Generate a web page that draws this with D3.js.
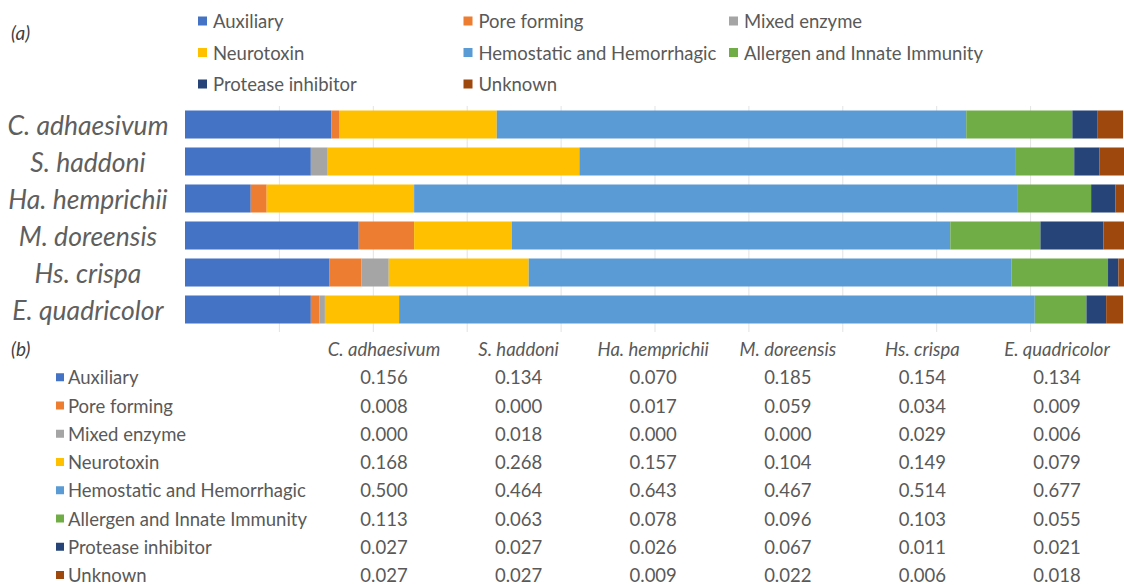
<!DOCTYPE html>
<html>
<head>
<meta charset="utf-8">
<script src="https://cdn.jsdelivr.net/npm/d3@7"></script>
<style>
  html, body { margin: 0; padding: 0; background: #ffffff; }
  svg { display: block; font-family: Lato, "Open Sans", sans-serif; }
</style>
</head>
<body>
<svg id="chart" width="1124" height="585"></svg>
<script>
// ---------- data ----------
const categories = ["C. adhaesivum", "S. haddoni", "Ha. hemprichii", "M. doreensis", "Hs. crispa", "E. quadricolor"];
const seriesNames = ["Auxiliary", "Pore forming", "Mixed enzyme", "Neurotoxin", "Hemostatic and Hemorrhagic", "Allergen and Innate Immunity", "Protease inhibitor", "Unknown"];
const seriesColors = ["#4472C4", "#ED7D31", "#A5A5A5", "#FFC000", "#5B9BD5", "#70AD47", "#264478", "#9E480E"];

const auxiliary  = [0.156, 0.134, 0.070, 0.185, 0.154, 0.134];
const poreForming = [0.008, 0.000, 0.017, 0.059, 0.034, 0.009];
const mixedEnzyme = [0.000, 0.018, 0.000, 0.000, 0.029, 0.006];
const neurotoxin  = [0.168, 0.268, 0.157, 0.104, 0.149, 0.079];
const hemostatic  = [0.500, 0.464, 0.643, 0.467, 0.514, 0.677];
const allergen    = [0.113, 0.063, 0.078, 0.096, 0.103, 0.055];
const protease    = [0.027, 0.027, 0.026, 0.067, 0.011, 0.021];
const unknown     = [0.027, 0.027, 0.009, 0.022, 0.006, 0.018];

const seriesValues = [auxiliary, poreForming, mixedEnzyme, neurotoxin, hemostatic, allergen, protease, unknown];
const gridTicks = [0.1, 0.2, 0.3, 0.4, 0.5, 0.6, 0.7, 0.8, 0.9];

// table built from arrays
const rows = categories.map((c, i) => {
  const o = { category: c };
  seriesNames.forEach((s, j) => { o[s] = seriesValues[j][i]; });
  return o;
});

const svg = d3.select("#chart");
const textColor = "#595959";

// ---------- panel (a) ----------
const x = d3.scaleLinear().domain([0, 1]).range([185, 1124]);
const y = d3.scaleBand().domain(categories).range([106, 328]).paddingInner(0.243).paddingOuter(0.1215);

// gridlines
svg.append("g")
  .attr("transform", "translate(0,332)")
  .call(d3.axisBottom(x).tickValues(gridTicks).tickSize(-226).tickFormat(""))
  .call(g => g.select(".domain").remove())
  .call(g => g.selectAll(".tick line").attr("stroke", "#E3E3E3").attr("stroke-width", 1));

const stacked = d3.stack().keys(seriesNames)(rows);

svg.append("g").selectAll("g")
  .data(stacked)
  .join("g")
  .attr("fill", (d, i) => seriesColors[i])
  .selectAll("rect")
  .data(d => d)
  .join("rect")
  .attr("x", d => x(d[0]))
  .attr("width", d => Math.max(0, x(d[1]) - x(d[0])))
  .attr("y", d => y(d.data.category))
  .attr("height", y.bandwidth());

// category labels (centered)
svg.append("g").selectAll("text")
  .data(categories)
  .join("text")
  .attr("x", 88)
  .attr("y", d => y(d) + y.bandwidth() / 2)
  .attr("text-anchor", "middle")
  .attr("dominant-baseline", "central")
  .attr("font-style", "italic")
  .attr("font-size", 26.5)
  .attr("fill", "#5f5f5f")
  .text(d => d);

// panel label (a)
svg.append("text").attr("x", 11).attr("y", 32).attr("dominant-baseline", "central")
  .attr("font-style", "italic").attr("font-size", 19).attr("fill", "#404040").text("(a)");

// legend
const legendCol = d3.scaleLinear().domain([0, 2]).range([198, 729]);
const legendRow = d3.scaleLinear().domain([0, 2]).range([21, 84]);
const legend = svg.append("g").selectAll("g")
  .data(seriesNames)
  .join("g")
  .attr("transform", (d, i) => `translate(${legendCol(i % 3)},${legendRow(Math.floor(i / 3))})`);
legend.append("rect").attr("x", 0).attr("y", -4.5).attr("width", 9).attr("height", 9)
  .attr("fill", (d, i) => seriesColors[i]);
legend.append("text").attr("x", 15).attr("y", 0).attr("dominant-baseline", "central")
  .attr("font-size", 18.5).attr("fill", textColor).text(d => d);

// ---------- panel (b) ----------
svg.append("text").attr("x", 11).attr("y", 348).attr("dominant-baseline", "central")
  .attr("font-style", "italic").attr("font-size", 19).attr("fill", "#404040").text("(b)");

const colX = d3.scalePoint().domain(categories).range([384, 1057]);
const rowY = d3.scalePoint().domain(["header"].concat(seriesNames)).range([349, 575]);
const fmt = d3.format(".3f");

svg.append("g").selectAll("text")
  .data(categories)
  .join("text")
  .attr("x", d => colX(d))
  .attr("y", rowY("header"))
  .attr("text-anchor", "middle")
  .attr("dominant-baseline", "central")
  .attr("font-style", "italic")
  .attr("font-size", 18.5)
  .attr("fill", textColor)
  .text(d => d);

const tRows = svg.append("g").selectAll("g")
  .data(seriesNames)
  .join("g")
  .attr("transform", d => `translate(0,${rowY(d)})`);
tRows.append("rect").attr("x", 56).attr("y", -4).attr("width", 8).attr("height", 8)
  .attr("fill", (d, i) => seriesColors[i]);
tRows.append("text").attr("x", 68).attr("y", 0).attr("dominant-baseline", "central")
  .attr("font-size", 18.5).attr("fill", textColor).text(d => d);
tRows.each(function(s, j) {
  d3.select(this).selectAll("text.val")
    .data(categories.map((c, i) => ({ c, v: seriesValues[j][i] })))
    .join("text")
    .attr("class", "val")
    .attr("x", d => colX(d.c))
    .attr("y", 0)
    .attr("text-anchor", "middle")
    .attr("dominant-baseline", "central")
    .attr("font-size", 18.5)
    .attr("fill", textColor)
    .text(d => fmt(d.v));
});
</script>
</body>
</html>
